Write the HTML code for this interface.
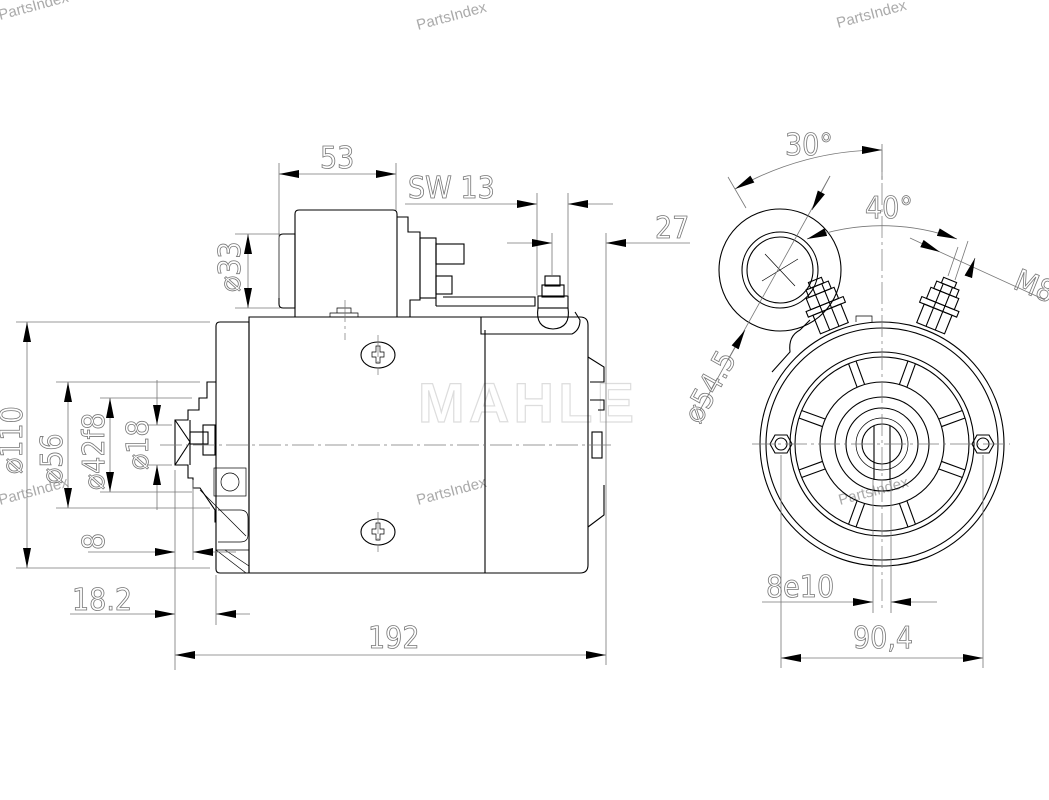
<!DOCTYPE html>
<html><head><meta charset="utf-8"><style>
html,body{margin:0;padding:0;background:#fff;}
svg{display:block;}
.l{stroke:#000;stroke-width:1.1;fill:none;}
.t{stroke:#000;stroke-width:0.7;fill:none;}
.d{stroke:#777;stroke-width:0.8;fill:none;}
.c{stroke:#777;stroke-width:0.7;fill:none;stroke-dasharray:22 4 3 4;}
.tx{font-family:"DejaVu Sans Condensed","Liberation Sans Narrow","Liberation Sans",sans-serif;font-size:30px;fill:none;stroke:#777;stroke-width:0.8;}
.wm{font-family:"Liberation Sans",sans-serif;font-size:15px;fill:#aaa;}
</style></head><body>
<svg width="1049" height="800" viewBox="0 0 1049 800" xmlns="http://www.w3.org/2000/svg">
<defs>
<marker id="a" markerUnits="userSpaceOnUse" markerWidth="22" markerHeight="10" refX="20" refY="4" orient="auto"><path d="M0,0 L20,4 L0,8 Z" fill="#000"/></marker>
<marker id="b" markerUnits="userSpaceOnUse" markerWidth="22" markerHeight="10" refX="0" refY="4" orient="auto"><path d="M20,0 L0,4 L20,8 Z" fill="#000"/></marker>
</defs>

<text class="wm" x="418" y="30" transform="rotate(-15 418 30)">PartsIndex</text>
<text class="wm" x="838" y="28" transform="rotate(-15 838 28)">PartsIndex</text>
<text class="wm" x="0" y="20" transform="rotate(-15 0 20)">PartsIndex</text>
<text class="wm" x="0" y="505" transform="rotate(-15 0 505)">PartsIndex</text>
<text class="wm" x="418" y="505" transform="rotate(-15 418 505)">PartsIndex</text>
<text class="wm" x="840" y="505" transform="rotate(-15 840 505)">PartsIndex</text>
<text x="418" y="422" font-family="Liberation Sans" font-weight="bold" font-size="56" fill="none" stroke="#ddd" stroke-width="1.2" textLength="216">MAHLE</text>

<!-- ===== LEFT VIEW ===== -->
<path class="l" d="M249,317 H580 Q588,317 588,325 V565 Q588,573 580,573 H249 Z"/>
<line class="l" x1="485" y1="330" x2="485" y2="573"/>
<path class="l" d="M220,322 H249 V573 H220 Q216,573 216,569 V326 Q216,322 220,322 Z"/>
<line class="t" x1="216" y1="550" x2="249" y2="550"/>
<path class="l" d="M299,210 H393 Q397,210 397,214 V317 H295 V214 Q295,210 299,210 Z"/>
<path class="l" d="M283,234 H295 V308 H283 Q279,308 279,304 V238 Q279,234 283,234 Z"/>
<path class="l" d="M397,217 H408 V232 H420 V300 H410 V317"/>
<rect class="l" x="420" y="238" width="16" height="60"/>
<rect class="l" x="436" y="244" width="28" height="20"/>
<rect class="l" x="436" y="276" width="16" height="18"/>
<line class="l" x1="436" y1="242" x2="436" y2="306"/>
<path class="l" d="M436,306 H535 V297 H443"/>
<path class="l" d="M481,317 V334 H572 Q580,330 580,320 L575,312"/>
<rect class="l" x="538" y="296" width="30" height="12"/>
<rect class="l" x="542" y="285" width="22" height="12"/>
<rect class="l" x="545" y="276" width="15" height="10"/>
<path class="l" d="M538,308 Q535,328 553,329 Q571,328 568,308"/>
<ellipse class="l" cx="378" cy="355" rx="17" ry="13"/>
<path class="t" d="M372,352 h4 v-6 h4 v6 h4 v5 h-4 v6 h-4 v-6 h-4 z"/>
<ellipse class="l" cx="378" cy="532" rx="17" ry="13"/>
<path class="t" d="M372,529 h4 v-6 h4 v6 h4 v5 h-4 v6 h-4 v-6 h-4 z"/>
<path class="t" d="M330,317 v-4 h28 v4 M337,313 v-5 h14 v5"/>
<path class="l" d="M588,357 L604,367 V382 H590 M590,400 H604 V410 H598"/>
<path class="l" d="M588,527 L604,515 V485"/>
<rect class="l" x="592" y="432" width="10" height="26"/>
<path class="l" d="M216,382 H207 V398 H199 V410 H188 V420 H175 V465 H188 V478 H193 V488 H200 L215,510 V522 H216"/>
<path class="l" d="M175,420 L190,442 L175,465 M190,420 V465"/>
<rect class="l" x="190" y="432" width="18" height="12"/>
<rect class="l" x="203" y="425" width="12" height="30"/>
<rect class="t" x="214" y="468" width="32" height="28"/>
<circle class="t" cx="230" cy="482" r="9"/>
<path class="t" d="M200,490 L240,530 M210,500 L246,536 M216,550 L246,573 M225,550 L249,566"/>
<path class="t" d="M218,510 H240 Q248,510 248,518 V535 Q248,542 240,542 H218"/>
<line class="c" x1="160" y1="445" x2="615" y2="445"/>
<line class="c" x1="345" y1="300" x2="345" y2="340"/>
<line class="c" x1="378" y1="335" x2="378" y2="375"/>
<line class="c" x1="378" y1="512" x2="378" y2="552"/>

<line class="d" x1="279" y1="163" x2="279" y2="298"/>
<line class="d" x1="396" y1="163" x2="396" y2="210"/>
<line class="d" x1="279" y1="174" x2="396" y2="174" marker-start="url(#b)" marker-end="url(#a)"/>
<text class="tx" x="320" y="168">53</text>
<line class="d" x1="405" y1="204" x2="537" y2="204" marker-end="url(#a)"/>
<line class="d" x1="568" y1="204" x2="613" y2="204" marker-start="url(#b)"/>
<line class="d" x1="537" y1="193" x2="537" y2="295"/>
<line class="d" x1="568" y1="193" x2="568" y2="295"/>
<text class="tx" x="408" y="198">SW 13</text>
<line class="d" x1="507" y1="243" x2="552" y2="243" marker-end="url(#a)"/>
<line class="d" x1="606" y1="243" x2="690" y2="243" marker-start="url(#b)"/>
<line class="d" x1="552" y1="233" x2="552" y2="275"/>
<line class="d" x1="606" y1="233" x2="606" y2="665"/>
<text class="tx" x="655" y="238">27</text>
<line class="d" x1="235" y1="234" x2="280" y2="234"/>
<line class="d" x1="235" y1="308" x2="280" y2="308"/>
<line class="d" x1="248" y1="234" x2="248" y2="308" marker-start="url(#b)" marker-end="url(#a)"/>
<text class="tx" transform="translate(240,292) rotate(-90)">⌀33</text>
<line class="d" x1="16" y1="322" x2="210" y2="322"/>
<line class="d" x1="16" y1="568" x2="210" y2="568"/>
<line class="d" x1="27" y1="322" x2="27" y2="568" marker-start="url(#b)" marker-end="url(#a)"/>
<text class="tx" transform="translate(22,474) rotate(-90)">⌀110</text>
<line class="d" x1="56" y1="382" x2="200" y2="382"/>
<line class="d" x1="56" y1="508" x2="210" y2="508"/>
<line class="d" x1="68" y1="382" x2="68" y2="508" marker-start="url(#b)" marker-end="url(#a)"/>
<text class="tx" transform="translate(62,484) rotate(-90)">⌀56</text>
<line class="d" x1="100" y1="398" x2="192" y2="398"/>
<line class="d" x1="100" y1="492" x2="192" y2="492"/>
<line class="d" x1="110" y1="398" x2="110" y2="492" marker-start="url(#b)" marker-end="url(#a)"/>
<text class="tx" transform="translate(104,490) rotate(-90)">⌀42f8</text>
<line class="d" x1="147" y1="425" x2="172" y2="425"/>
<line class="d" x1="147" y1="465" x2="172" y2="465"/>
<line class="d" x1="157" y1="380" x2="157" y2="425" marker-end="url(#a)"/>
<line class="d" x1="157" y1="465" x2="157" y2="510" marker-start="url(#b)"/>
<text class="tx" transform="translate(148,470) rotate(-90)">⌀18</text>
<line class="d" x1="175" y1="470" x2="175" y2="670"/>
<line class="d" x1="193" y1="480" x2="193" y2="560"/>
<line class="d" x1="216" y1="575" x2="216" y2="625"/>
<line class="d" x1="88" y1="552" x2="175" y2="552" marker-end="url(#a)"/>
<line class="d" x1="193" y1="552" x2="236" y2="552" marker-start="url(#b)"/>
<text class="tx" transform="translate(104,550) rotate(-90)">8</text>
<line class="d" x1="70" y1="614" x2="175" y2="614" marker-end="url(#a)"/>
<line class="d" x1="216" y1="614" x2="250" y2="614" marker-start="url(#b)"/>
<text class="tx" x="72" y="610">18.2</text>
<line class="d" x1="175" y1="655" x2="606" y2="655" marker-start="url(#b)" marker-end="url(#a)"/>
<text class="tx" x="368" y="648">192</text>

<!-- ===== RIGHT VIEW ===== -->
<circle class="l" cx="882" cy="444" r="122"/>
<circle class="l" cx="882" cy="444" r="116"/>
<circle class="l" cx="882" cy="444" r="92"/>
<circle class="l" cx="882" cy="444" r="87"/>
<circle class="l" cx="882" cy="444" r="62"/>
<circle class="l" cx="882" cy="444" r="47"/>
<circle class="l" cx="882" cy="444" r="36"/>
<circle class="t" cx="882" cy="444" r="26"/>
<circle class="l" cx="882" cy="444" r="20"/>
<g class="l">
<g transform="rotate(20 882 444)"><path d="M944,440 H969 M944,448 H969"/></g>
<g transform="rotate(70 882 444)"><path d="M944,440 H969 M944,448 H969"/></g>
<g transform="rotate(110 882 444)"><path d="M944,440 H969 M944,448 H969"/></g>
<g transform="rotate(160 882 444)"><path d="M944,440 H969 M944,448 H969"/></g>
<g transform="rotate(200 882 444)"><path d="M944,440 H969 M944,448 H969"/></g>
<g transform="rotate(250 882 444)"><path d="M944,440 H969 M944,448 H969"/></g>
<g transform="rotate(290 882 444)"><path d="M944,440 H969 M944,448 H969"/></g>
<g transform="rotate(340 882 444)"><path d="M944,440 H969 M944,448 H969"/></g>
</g>
<path class="l" d="M874,426 V480 M890,426 V480"/>
<polygon class="l" points="770,444 775,435 787,435 792,444 787,453 775,453"/>
<circle class="l" cx="781" cy="444" r="6"/>
<polygon class="l" points="972,444 977,435 989,435 994,444 989,453 977,453"/>
<circle class="l" cx="983" cy="444" r="6"/>
<circle class="l" cx="780" cy="270" r="61"/>
<circle class="l" cx="780" cy="270" r="38"/>
<circle class="l" cx="780" cy="270" r="33"/>
<path class="t" d="M765,254 L795,286 M762,281 L798,259"/>
<path class="l" d="M800,330 Q788,336 790,352 L772,372 M810,320 L800,330"/>
<!-- terminals -->
<g class="l" transform="rotate(-22 825 305)">
<rect x="810" y="310" width="30" height="20"/><rect x="805" y="304" width="40" height="6"/><rect x="810" y="292" width="30" height="12"/><rect x="813" y="284" width="24" height="8"/><rect x="818" y="278" width="14" height="6"/>
<path d="M820,284 V330 M830,284 V330"/>
</g>
<g class="l" transform="rotate(22 940 305)">
<rect x="925" y="310" width="30" height="20"/><rect x="920" y="304" width="40" height="6"/><rect x="925" y="292" width="30" height="12"/><rect x="928" y="284" width="24" height="8"/><rect x="933" y="278" width="14" height="6"/>
<path d="M935,284 V330 M945,284 V330"/>
</g>
<path class="t" d="M856,322 v-6 h16 v6"/>
<line class="c" x1="882" y1="150" x2="882" y2="610"/>
<line class="c" x1="752" y1="444" x2="1010" y2="444"/>
<path class="d" d="M735,189 A294,294 0 0 1 882,150" marker-start="url(#b)" marker-end="url(#a)"/>
<line class="d" x1="882" y1="144" x2="882" y2="180"/>
<line class="d" x1="728" y1="177" x2="746" y2="208"/>
<text class="tx" x="785" y="155">30°</text>
<path class="d" d="M807,239 A218,218 0 0 1 957,239" marker-start="url(#b)" marker-end="url(#a)"/>
<text class="tx" x="865" y="218">40°</text>
<line class="d" x1="940" y1="252" x2="1045" y2="300"/>
<line class="d" x1="955" y1="280" x2="968" y2="241"/>
<line class="d" x1="948" y1="276" x2="958" y2="247"/>
<line class="d" x1="970" y1="272" x2="975" y2="258" marker-end="url(#a)"/>
<line class="d" x1="910" y1="238" x2="940" y2="252" marker-end="url(#a)"/>
<text class="tx" transform="translate(1012,288) rotate(22)">M8</text>
<line class="d" x1="700" y1="410" x2="830" y2="176"/>
<line class="d" x1="812" y1="210" x2="830" y2="176" marker-start="url(#b)"/>
<line class="d" x1="745" y1="330" x2="728" y2="360" marker-start="url(#b)"/>
<text class="tx" transform="translate(700,425) rotate(-61)">⌀54.5</text>
<line class="d" x1="781" y1="455" x2="781" y2="668"/>
<line class="d" x1="983" y1="455" x2="983" y2="668"/>
<line class="d" x1="873" y1="480" x2="873" y2="613"/>
<line class="d" x1="891" y1="480" x2="891" y2="613"/>
<line class="d" x1="762" y1="602" x2="873" y2="602" marker-end="url(#a)"/>
<line class="d" x1="891" y1="602" x2="937" y2="602" marker-start="url(#b)"/>
<text class="tx" x="766" y="597">8e10</text>
<line class="d" x1="781" y1="658" x2="983" y2="658" marker-start="url(#b)" marker-end="url(#a)"/>
<text class="tx" x="853" y="648">90,4</text>
</svg>
</body></html>
